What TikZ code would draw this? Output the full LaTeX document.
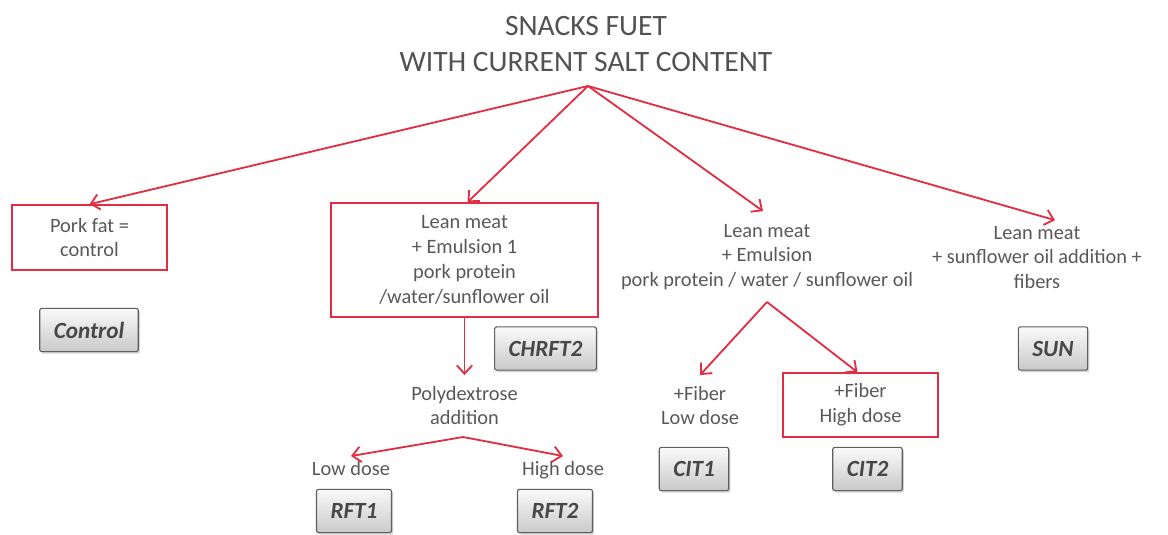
\documentclass[tikz,border=0pt]{standalone}
\usepackage{fontspec}
\setmainfont{Carlito}
\usetikzlibrary{arrows.meta,calc,shadows}
\definecolor{linered}{RGB}{226,46,66}
\definecolor{textgray}{RGB}{88,88,88}
\definecolor{tagborder}{RGB}{95,95,95}

\begin{document}
\begin{tikzpicture}[
    x=0.025cm, y=-0.025cm,
    every node/.style={
        align=center,
        text=textgray,
        inner ysep=7.5pt,
        font=\fontsize{14.5}{17.7}\selectfont
    },
    redbox/.style={draw=linered, line width=1.1pt},
    tag/.style={
        draw=tagborder,
        line width=0.8pt,
        rounded corners=1.5pt,
        top color=gray!4,
        bottom color=gray!42,
        minimum height=1.08cm,
        inner xsep=10pt,
        inner ysep=3pt,
        text=black!72,
        font=\fontsize{16.5}{19}\selectfont\bfseries\itshape,
        drop shadow={shadow xshift=1.2pt, shadow yshift=-1.5pt, opacity=0.35}
    },
    arrow/.style={-{Straight Barb[length=6pt,width=11pt]}, draw=linered, line width=1.3pt}
]

\useasboundingbox (0,0) rectangle (1168,534);

\node (title) [font=\fontsize{21}{26}\selectfont, text=black!68] at (586,44)
    {SNACKS FUET\\WITH CURRENT SALT CONTENT};
\coordinate (root) at (588,86);

\node (pork) [redbox, minimum width=3.875cm, minimum height=1.625cm, inner ysep=3pt] at (89.5,237.5)
    {Pork fat =\\control};
\node (control) [tag] at (89,330) {Control};

\node (chrft) [redbox, minimum width=6.675cm, minimum height=2.85cm, inner ysep=3pt] at (464.5,260)
    {Lean meat\\+ Emulsion 1\\pork protein\\/water/sunflower oil};
\node (chrft2) [tag] at (545.5,348.5) {CHRFT2};

\node (poly) at (464.5,405.5) {Polydextrose\\addition};
\coordinate (polysplit) at (463,437);
\node (rftlow) [anchor=base] at (351,475) {Low dose};
\node (rfthigh) [anchor=base] at (563,475) {High dose};
\node (rft1) [tag] at (354,511) {RFT1};
\node (rft2) [tag] at (555,511) {RFT2};

\node (lean) at (767,257)
    {Lean meat\\+ Emulsion\\pork protein / water / sunflower oil};
\coordinate (leansplit) at (767,302);
\node (fiberlow) at (700,405.5) {+Fiber\\Low dose};
\node (fiberhigh) [redbox, minimum width=3.875cm, minimum height=1.6cm, inner ysep=3pt] at (860.5,405)
    {+Fiber\\High dose};
\node (cit1) [tag] at (694,469) {CIT1};
\node (cit2) [tag] at (867.5,469) {CIT2};

\node (sun) at (1037,257.5)
    {Lean meat\\+ sunflower oil addition +\\fibers};
\node (suntag) [tag] at (1053,348.5) {SUN};

\draw [arrow] (root) -- (pork.north);
\draw [arrow] (root) -- ($(chrft.north)+(3,0)$);
\draw [arrow] (root) -- ($(lean.north)+(-4,-2)$);
\draw [arrow] (root) -- ($(sun.north)+(18,5)$);
\draw [arrow] (chrft.south) -- (poly.north);
\draw [arrow] (polysplit) -- ($(rftlow.north)+(0,6)$);
\draw [arrow] (polysplit) -- ($(rfthigh.north)+(0,6)$);
\draw [arrow] (leansplit) -- (fiberlow.north);
\draw [arrow] (leansplit) -- ($(fiberhigh.north)+(-3,0)$);

\end{tikzpicture}
\end{document}
